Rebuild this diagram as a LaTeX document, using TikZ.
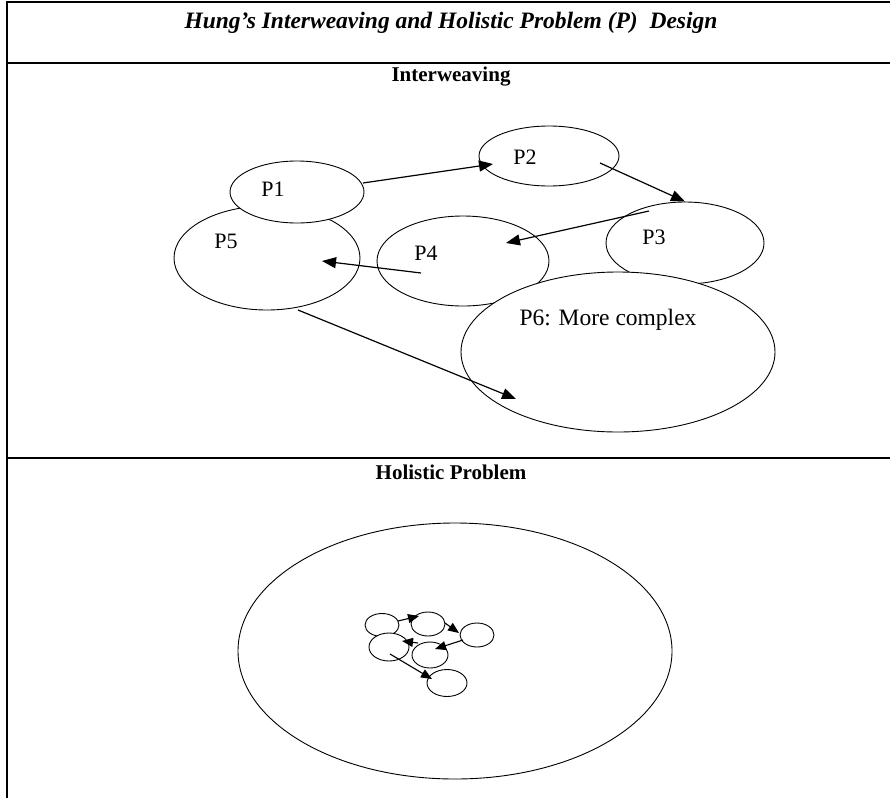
\documentclass[tikz,border=0pt]{standalone}
\usepackage{fontspec}
\setmainfont{Liberation Serif}
\usetikzlibrary{shapes.geometric,arrows.meta}

\begin{document}
\begin{tikzpicture}[x=1pt, y=-1pt,
    every label/.style={font=\fontsize{22pt}{26pt}\selectfont}]
  \tikzstyle{prob} = [ellipse, draw, fill=white, inner sep=0pt, line width=0.9pt]
  \tikzstyle{tiny} = [ellipse, draw, fill=white, inner sep=0pt, line width=0.9pt]
  \tikzstyle{rule} = [line width=1.3pt]
  \tikzstyle{head} = [font=\fontsize{21pt}{25pt}\selectfont\bfseries]
  \tikzstyle{link} = [-{Triangle[length=14pt,width=11pt]}, line width=1.2pt]
  \tikzstyle{minilink} = [-{Triangle[length=11pt,width=9pt]}, line width=1.1pt]
  \useasboundingbox (0,0) rectangle (890,798);

  % Table frame
  \draw[rule] (890,2) -- (7,2) -- (7,798);
  \draw[rule] (7,63) -- (890,63);
  \draw[rule] (7,458) -- (890,458);
  \node[font=\fontsize{23.5pt}{28pt}\selectfont\bfseries\itshape] (title) at (451,23)
    {Hung’s Interweaving and Holistic Problem (P)\ \ Design};
  \node[head] (weave) at (451,77) {Interweaving};
  \node[head] (holist) at (451,472) {Holistic Problem};

  % Define nodes
  \node[prob, minimum width=186pt, minimum height=104pt,
    label={[xshift=-41pt, yshift=17pt]center:P5}] (p5) at (267,258) {};
  \node[prob, minimum width=134pt, minimum height=62pt,
    label={[xshift=-24pt, yshift=3pt]center:P1}] (p1) at (297,192) {};
  \node[prob, minimum width=140pt, minimum height=60pt,
    label={[xshift=-24pt, yshift=-1pt]center:P2}] (p2) at (549,156) {};
  \node[prob, minimum width=172pt, minimum height=90pt,
    label={[xshift=-37pt, yshift=8pt]center:P4}] (p4) at (463,261) {};
  \node[prob, minimum width=158pt, minimum height=82pt,
    label={[xshift=-31pt, yshift=6pt]center:P3}] (p3) at (685,243) {};
  \node[prob, minimum width=314pt, minimum height=160pt,
    label={[xshift=-10pt, yshift=32pt, font=\fontsize{23.5pt}{28pt}\selectfont]center:P6: More complex}] (p6) at (618,352) {};

  \node[prob, minimum width=434pt, minimum height=256pt] (whole) at (455,651) {};
  \node[tiny, minimum width=34pt, minimum height=23pt] (c1) at (382,625) {};
  \node[tiny, minimum width=34pt, minimum height=24pt] (c2) at (428,624) {};
  \node[tiny, minimum width=34pt, minimum height=24pt] (c3) at (477,635) {};
  \node[tiny, minimum width=40pt, minimum height=28pt] (c4) at (389,647) {};
  \node[tiny, minimum width=36pt, minimum height=26pt] (c5) at (430,655) {};
  \node[tiny, minimum width=40pt, minimum height=27pt] (c6) at (447,683) {};

  % Arrow ends
  \coordinate (p1out) at ([shift={(66,-9)}]p1.center);
  \coordinate (p2in) at ([shift={(-56,8)}]p2.center);
  \coordinate (p2out) at ([shift={(51,7)}]p2.center);
  \coordinate (p3out) at ([shift={(-36,-32)}]p3.center);
  \coordinate (p4in) at ([shift={(43,-18)}]p4.center);
  \coordinate (p4out) at ([shift={(-42,12)}]p4.center);
  \coordinate (p5in) at ([shift={(55,3)}]p5.center);
  \coordinate (p5out) at ([shift={(31,52)}]p5.center);
  \coordinate (p6in) at ([shift={(-102,47)}]p6.center);

  \draw[link] (p1out) -- (p2in);
  \draw[link] (p2out) -- (p3.north);
  \draw[link] (p3out) -- (p4in);
  \draw[link] (p4out) -- (p5in);
  \draw[link] (p5out) -- (p6in);

  \draw[minilink] ([shift={(16,-4)}]c1.center) -- ([shift={(-9,-8)}]c2.center);
  \draw[minilink] ([shift={(17,-1)}]c2.center) -- ([shift={(-18,-2)}]c3.center);
  \draw[minilink] ([shift={(-14,5)}]c3.center) -- ([shift={(5,-6)}]c5.center);
  \draw[minilink] ([shift={(-12,-12)}]c5.center) -- ([shift={(13,-6)}]c4.center);
  \draw[minilink] ([shift={(1,7)}]c4.center) -- ([shift={(-15,-4)}]c6.center);
\end{tikzpicture}
\end{document}
